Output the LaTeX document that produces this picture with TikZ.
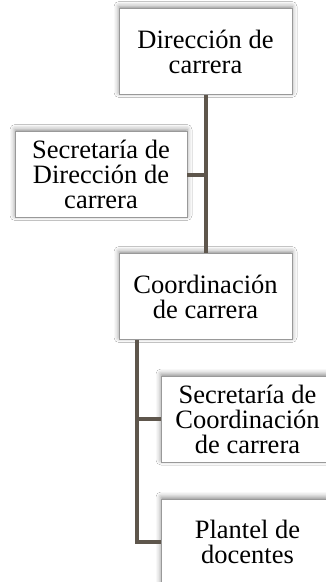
\documentclass[tikz,border=0pt]{standalone}
\usepackage{fontspec}
\setmainfont{Liberation Serif}
\usetikzlibrary{shadows.blur}

\tikzset{
  orgbox/.style={draw=black!40,line width=.6pt,fill=white,minimum width=173pt,
    minimum height=86pt,inner sep=0pt,align=center,
    blur shadow={shadow xshift=0pt,shadow yshift=2pt,shadow blur radius=5pt,shadow opacity=45}},
  orgline/.style={draw={rgb,255:red,94;green,86;blue,76},line width=4pt,line join=miter}
}

\begin{document}
\begin{tikzpicture}[x=1pt,y=-1pt,font=\fontsize{26.5}{25}\selectfont]
\clip (0,0) rectangle (326,582);
\fill[white] (0,0) rectangle (326,582);
\node[orgbox] (dir) at (205.5,51.5) {Dirección de\\carrera};
\node[orgbox,minimum width=172pt] (secdir) at (101,174.5) {Secretaría de\\Dirección de\\carrera};
\node[orgbox] (coord) at (205.5,296.5) {Coordinación\\de carrera};
\node[orgbox] (seccoord) at (247.5,419) {Secretaría de\\Coordinación\\de carrera};
\node[orgbox] (plantel) at (247.5,542) {Plantel de\\docentes};
\coordinate (stem) at (137,542);
\path[orgline] (dir.south) -- (coord.north);
\path[orgline] (secdir.east) -- (secdir.east -| dir.south);
\path[orgline] (stem |- coord.south) -- (stem) -- (plantel.west);
\path[orgline] (seccoord.west) -- (seccoord.west -| stem);
\end{tikzpicture}
\end{document}
